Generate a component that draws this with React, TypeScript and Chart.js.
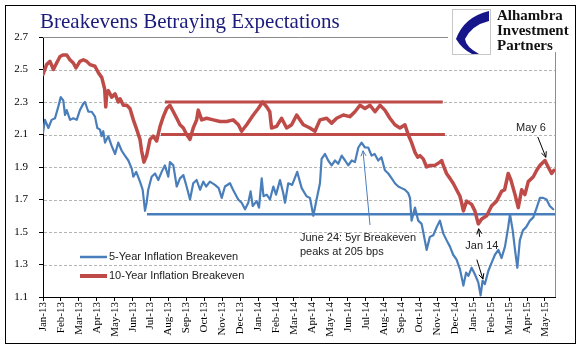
import React, { useEffect, useRef } from "react";
import { Chart, registerables } from "chart.js";

Chart.register(...registerables);

const monthLabels = [
  "Jan-13", "Feb-13", "Mar-13", "Apr-13", "May-13", "Jun-13", "Jul-13", "Aug-13", "Sep-13", "Oct-13", "Nov-13", "Dec-13",
  "Jan-14", "Feb-14", "Mar-14", "Apr-14", "May-14", "Jun-14", "Jul-14", "Aug-14", "Sep-14", "Oct-14", "Nov-14", "Dec-14",
  "Jan-15", "Feb-15", "Mar-15", "Apr-15", "May-15",
];
const yTickValues = [1.1, 1.3, 1.5, 1.7, 1.9, 2.1, 2.3, 2.5, 2.7];
const seriesNames = ["5-Year Inflation Breakeven", "10-Year Inflation Breakeven"];
const seriesColors = ["#4a7ebb", "#be4b48"];
const titleText = "Breakevens Betraying Expectations";
const logoLines = ["Alhambra", "Investment", "Partners"];

// x values are months since Jan-13
const blueMonths = [
  0, 0.11, 0.3, 0.48, 0.67, 0.85, 0.99, 1.13, 1.23, 1.32, 1.51, 1.69, 1.88, 2.06, 2.25, 2.34, 2.53, 2.72, 2.9, 3.03,
  3.18, 3.27, 3.36, 3.46, 3.64, 3.83, 4.02, 4.2, 4.39, 4.57, 4.76, 4.95, 5.04, 5.2, 5.41, 5.56, 5.69, 5.78, 5.87, 6.06,
  6.25, 6.43, 6.62, 6.8, 6.99, 7.08, 7.27, 7.46, 7.64, 7.83, 8.01, 8.2, 8.38, 8.57, 8.76, 8.94, 9.1, 9.31, 9.59, 9.8,
  9.97, 10.15, 10.43, 10.6, 10.89, 11.08, 11.27, 11.45, 11.58, 11.7, 11.92, 12.05, 12.2, 12.3, 12.48, 12.66, 12.85, 13.0, 13.22, 13.4,
  13.5, 13.68, 13.9, 14.18, 14.43, 14.7, 14.89, 15.08, 15.26, 15.45, 15.54, 15.73, 15.91, 16.1, 16.29, 16.47, 16.66, 16.85, 17.03, 17.22,
  17.4, 17.59, 17.77, 17.96, 18.14, 18.33, 18.5, 18.7, 18.88, 19.07, 19.26, 19.45, 19.63, 19.82, 20.0, 20.19, 20.37, 20.47, 20.56, 20.75,
  20.93, 21.12, 21.21, 21.4, 21.58, 21.77, 21.96, 22.14, 22.33, 22.51, 22.7, 22.88, 23.07, 23.26, 23.45, 23.6, 23.73, 23.91, 24.09, 24.28,
  24.41, 24.52, 24.65, 24.84, 25.02, 25.21, 25.4, 25.58, 25.77, 25.95, 26.05, 26.2, 26.33, 26.46, 26.6, 26.77, 26.95, 27.16, 27.35, 27.54,
  27.72, 27.9, 28.09, 28.27, 28.46,
];
const blueValues = [
  2.11, 2.19, 2.14, 2.19, 2.2, 2.27, 2.33, 2.31, 2.22, 2.25, 2.19, 2.2, 2.19, 2.25, 2.29, 2.3, 2.24, 2.24, 2.21, 2.14,
  2.13, 2.09, 2.12, 2.05, 2.09, 2.03, 1.98, 2.05, 2.0, 1.97, 1.94, 1.89, 1.84, 1.87, 1.81, 1.76, 1.63, 1.68, 1.76, 1.84,
  1.86, 1.82, 1.87, 1.91, 1.84, 1.93, 1.91, 1.78, 1.83, 1.85, 1.78, 1.7, 1.8, 1.82, 1.76, 1.81, 1.78, 1.81, 1.79, 1.77,
  1.71, 1.78, 1.8, 1.76, 1.7, 1.68, 1.64, 1.68, 1.75, 1.66, 1.69, 1.65, 1.83, 1.72, 1.73, 1.7, 1.78, 1.73, 1.82, 1.74,
  1.68, 1.8, 1.79, 1.87, 1.77, 1.72, 1.71, 1.6, 1.7, 1.8, 1.95, 1.98, 1.94, 1.91, 1.94, 1.92, 1.97, 1.94, 1.91, 1.94,
  1.93, 2.02, 2.05, 2.02, 2.02, 1.97, 1.98, 1.94, 1.96, 1.88, 1.86, 1.83, 1.8, 1.78, 1.77, 1.76, 1.74, 1.71, 1.57, 1.65,
  1.57, 1.55, 1.5, 1.39, 1.47, 1.48, 1.53, 1.57, 1.49, 1.45, 1.41, 1.36, 1.33, 1.27, 1.17, 1.25, 1.23, 1.28, 1.24, 1.19,
  1.11, 1.2, 1.18, 1.26, 1.31, 1.36, 1.39, 1.34, 1.41, 1.53, 1.61, 1.51, 1.39, 1.28, 1.45, 1.51, 1.53, 1.57, 1.59, 1.65,
  1.71, 1.71, 1.7, 1.66, 1.64,
];

const redMonths = [
  0, 0.2, 0.39, 0.58, 0.76, 0.95, 1.13, 1.32, 1.5, 1.69, 1.84, 2.06, 2.25, 2.44, 2.62, 2.9, 3.09, 3.28, 3.44, 3.5,
  3.56, 3.64, 3.83, 4.02, 4.2, 4.3, 4.48, 4.67, 4.85, 5.04, 5.23, 5.41, 5.5, 5.63, 5.78, 5.97, 6.15, 6.34, 6.53, 6.71,
  6.9, 7.08, 7.27, 7.46, 7.64, 7.83, 8.01, 8.2, 8.38, 8.57, 8.66, 8.85, 9.13, 9.5, 9.87, 10.25, 10.61, 10.9, 11.08, 11.36,
  11.73, 12.01, 12.25, 12.48, 12.65, 12.75, 13.03, 13.31, 13.59, 13.87, 14.15, 14.52, 14.89, 15.17, 15.45, 15.82, 16.1, 16.38, 16.75, 17.12,
  17.4, 17.68, 17.96, 18.24, 18.52, 18.8, 19.07, 19.35, 19.63, 19.91, 20.19, 20.37, 20.56, 20.75, 20.9, 21.03, 21.21, 21.4, 21.58, 21.86,
  22.14, 22.24, 22.33, 22.51, 22.7, 22.88, 23.07, 23.26, 23.35, 23.45, 23.63, 23.91, 24.09, 24.28, 24.47, 24.75, 25.02, 25.3, 25.58, 25.75,
  25.95, 26.1, 26.33, 26.51, 26.7, 26.88, 27.07, 27.35, 27.54, 27.72, 28.0, 28.18, 28.37, 28.5,
];
const redValues = [
  2.47, 2.53, 2.55, 2.5, 2.54, 2.58, 2.59, 2.59, 2.56, 2.54, 2.51, 2.55, 2.56, 2.55, 2.53, 2.52, 2.48, 2.45, 2.38, 2.27,
  2.36, 2.37, 2.33, 2.35, 2.3, 2.32, 2.28, 2.28, 2.26, 2.19, 2.13, 2.07, 2.0, 1.93, 1.97, 2.07, 2.09, 2.06, 2.15, 2.21,
  2.26, 2.28, 2.24, 2.2, 2.16, 2.14, 2.1, 2.07, 2.14, 2.19, 2.25, 2.19, 2.2, 2.19, 2.18, 2.18, 2.19, 2.16, 2.12, 2.16,
  2.22, 2.26, 2.3, 2.27, 2.24, 2.14, 2.15, 2.2, 2.14, 2.16, 2.22, 2.16, 2.14, 2.12, 2.19, 2.2, 2.17, 2.2, 2.22, 2.21,
  2.24, 2.28, 2.26, 2.28, 2.24, 2.28, 2.25, 2.2, 2.16, 2.14, 2.16, 2.1, 2.05, 1.99, 1.96, 1.97, 1.95, 1.9, 1.91, 1.91,
  1.93, 1.94, 1.91, 1.86, 1.83, 1.8, 1.76, 1.72, 1.68, 1.63, 1.69, 1.67, 1.63, 1.55, 1.58, 1.6, 1.66, 1.69, 1.75, 1.76,
  1.86, 1.82, 1.73, 1.65, 1.76, 1.73, 1.81, 1.84, 1.88, 1.91, 1.94, 1.9, 1.86, 1.88,
];

// horizontal reference lines (data units)
const refLines = [
  { series: 1, y: 2.3, from: 6.8, to: 22.3 },
  { series: 1, y: 2.1, from: 6.58, to: 22.42 },
  { series: 0, y: 1.61, from: 5.8, to: 28.56 },
];
// text notes (data units)
const notes = [
  { lines: ["June 24: 5yr Breakeven", "peaks at 205 bps"], x: 14.33, y: 1.463, align: "left" },
  { lines: ["Jan 14"], x: 24.48, y: 1.414, align: "center" },
  { lines: ["May 6"], x: 27.22, y: 2.14, align: "center" },
];
// arrows (data units): from -> to (head at "to")
const arrows = [
  { x1: 18.24, y1: 1.543, x2: 17.85, y2: 2.0, color: "#4a7ebb" },
  { x1: 24.36, y1: 1.47, x2: 24.3, y2: 1.52, color: "#000" },
  { x1: 24.2, y1: 1.33, x2: 24.54, y2: 1.21, color: "#000" },
  { x1: 27.6, y1: 2.085, x2: 28.05, y2: 1.96, color: "#000" },
];

const X_MAX = 28.56;

export default function App() {
  const ref = useRef<HTMLCanvasElement>(null);

  useEffect(() => {
    const canvas = ref.current;
    if (!canvas) return;
    const sans = "'Liberation Sans', Arial, sans-serif";
    const serif = "'Liberation Serif', 'Times New Roman', serif";

    const decor = {
      id: "decor",
      beforeDatasetsDraw(c: any) {
        const { ctx, chartArea: a } = c;
        const X = c.scales.x, Y = c.scales.y;
        ctx.save();
        ctx.lineWidth = 1;
        ctx.strokeStyle = "#b4b4b4";
        ctx.setLineDash([3, 2]);
        yTickValues.slice(1, -1).forEach((v) => {
          const y = Math.round(Y.getPixelForValue(v)) + 0.5;
          ctx.beginPath();
          ctx.moveTo(a.left + 1, y);
          ctx.lineTo(a.right, y);
          ctx.stroke();
        });
        ctx.setLineDash([]);
        ctx.strokeStyle = "#8c8c8c";
        ctx.beginPath();
        ctx.moveTo(a.left, a.top + 0.5);
        ctx.lineTo(a.right + 0.5, a.top + 0.5);
        ctx.lineTo(a.right + 0.5, a.bottom);
        ctx.stroke();
        refLines.forEach((r) => {
          ctx.strokeStyle = seriesColors[r.series];
          ctx.lineWidth = r.series === 1 ? 3 : 2.5;
          const y = Y.getPixelForValue(r.y);
          ctx.beginPath();
          ctx.moveTo(X.getPixelForValue(r.from), y);
          ctx.lineTo(X.getPixelForValue(r.to), y);
          ctx.stroke();
        });
        ctx.restore();
      },
      afterDraw(c: any) {
        const { ctx, chartArea: a } = c;
        const X = c.scales.x, Y = c.scales.y;
        ctx.save();
        // notes
        ctx.fillStyle = "#222";
        ctx.font = `11px ${sans}`;
        ctx.textBaseline = "middle";
        notes.forEach((n) => {
          ctx.textAlign = n.align as CanvasTextAlign;
          const x = X.getPixelForValue(n.x);
          const y0 = Y.getPixelForValue(n.y);
          n.lines.forEach((t, i) => ctx.fillText(t, x, y0 + i * 14));
        });
        // arrows
        arrows.forEach((ar) => {
          const x1 = X.getPixelForValue(ar.x1), y1 = Y.getPixelForValue(ar.y1);
          const x2 = X.getPixelForValue(ar.x2), y2 = Y.getPixelForValue(ar.y2);
          ctx.strokeStyle = ar.color;
          ctx.lineWidth = 1;
          ctx.beginPath();
          ctx.moveTo(x1, y1);
          ctx.lineTo(x2, y2);
          const ang = Math.atan2(y2 - y1, x2 - x1);
          const h = 6;
          ctx.moveTo(x2 - h * Math.cos(ang - 0.45), y2 - h * Math.sin(ang - 0.45));
          ctx.lineTo(x2, y2);
          ctx.lineTo(x2 - h * Math.cos(ang + 0.45), y2 - h * Math.sin(ang + 0.45));
          ctx.stroke();
        });
        // legend
        const lx = a.left + 37;
        const ly = [257, 276];
        seriesNames.forEach((name, i) => {
          ctx.strokeStyle = seriesColors[i];
          ctx.lineWidth = i === 1 ? 4 : 2.5;
          ctx.beginPath();
          ctx.moveTo(lx, ly[i]);
          ctx.lineTo(lx + 27, ly[i]);
          ctx.stroke();
          ctx.fillStyle = "#222";
          ctx.textAlign = "left";
          ctx.font = `11px ${sans}`;
          ctx.fillText(name, lx + 29, ly[i]);
        });
        // title
        ctx.textBaseline = "alphabetic";
        ctx.fillStyle = "#1b1b7d";
        ctx.font = `21px ${serif}`;
        ctx.fillText(titleText, 40, 28);
        // logo
        ctx.fillStyle = "#fff";
        ctx.fillRect(448, 6, 127, 46);
        const L = 452, T = 9, R = 490, B = 54;
        ctx.strokeStyle = "#c8c8c8";
        ctx.lineWidth = 1;
        ctx.strokeRect(L + 0.5, T + 0.5, R - L, B - T);
        ctx.fillStyle = "#16168a";
        ctx.beginPath();
        ctx.moveTo(R - 1, T + 2);
        ctx.quadraticCurveTo(L + 12, T + 8, L + 4, T + 30);
        ctx.quadraticCurveTo(L + 10, T + 40, L + 20, B);
        ctx.lineTo(L + 27, B);
        ctx.quadraticCurveTo(L + 14, T + 38, L + 13, T + 30);
        ctx.quadraticCurveTo(L + 20, T + 16, R - 1, T + 12);
        ctx.closePath();
        ctx.fill();
        ctx.fillStyle = "#111";
        ctx.font = `bold 15px ${serif}`;
        ctx.textAlign = "left";
        logoLines.forEach((t, i) => ctx.fillText(t, 497, 20 + i * 15));
        // outer frame
        ctx.strokeStyle = "#000";
        ctx.lineWidth = 1;
        ctx.strokeRect(5.5, 5.5, 570, 338);
        ctx.restore();
      },
    };

    const chart = new Chart(canvas, {
      type: "line",
      data: {
        datasets: [
          {
            label: seriesNames[0],
            data: blueMonths.map((m, i) => ({ x: m, y: blueValues[i] })),
            borderColor: seriesColors[0],
            borderWidth: 2.2,
            pointRadius: 0,
            tension: 0,
            borderJoinStyle: "round",
            borderCapStyle: "round",
          },
          {
            label: seriesNames[1],
            data: redMonths.map((m, i) => ({ x: m, y: redValues[i] })),
            borderColor: seriesColors[1],
            borderWidth: 3.5,
            pointRadius: 0,
            tension: 0,
            borderJoinStyle: "round",
            borderCapStyle: "round",
          },
        ],
      },
      options: {
        responsive: false,
        animation: false,
        events: [],
        layout: { padding: { left: 0, top: 37, right: 28, bottom: 0 } },
        plugins: { legend: { display: false }, tooltip: { enabled: false }, title: { display: false } },
        scales: {
          x: {
            type: "linear",
            min: 0,
            max: X_MAX,
            afterBuildTicks: (s: any) => {
              s.ticks = monthLabels.map((_, i) => ({ value: i }));
            },
            afterFit: (s: any) => {
              s.height = 64;
            },
            grid: { drawOnChartArea: false, drawTicks: true, tickLength: 4, color: "#000" },
            border: { color: "#000", width: 1 },
            ticks: {
              autoSkip: false,
              maxRotation: 90,
              minRotation: 90,
              padding: 1,
              color: "#000",
              font: { family: serif, size: 11 },
              callback: (v: any) => monthLabels[Math.round(v)] ?? "",
            },
          },
          y: {
            type: "linear",
            min: 1.1,
            max: 2.7,
            afterBuildTicks: (s: any) => {
              s.ticks = yTickValues.map((v) => ({ value: v }));
            },
            afterFit: (s: any) => {
              s.width = 43;
            },
            grid: { drawOnChartArea: false, drawTicks: true, tickLength: 4, color: "#000" },
            border: { color: "#000", width: 1 },
            ticks: {
              padding: 11,
              color: "#000",
              font: { family: serif, size: 11 },
              callback: (v: any) => Number(v).toFixed(1),
            },
          },
        },
      },
      plugins: [decor],
    });
    return () => chart.destroy();
  }, []);

  return (
    <div style={{ position: "absolute", left: 0, top: 0, width: 583, height: 361, background: "#fff" }}>
      <canvas ref={ref} width={583} height={361} style={{ display: "block" }} />
    </div>
  );
}
